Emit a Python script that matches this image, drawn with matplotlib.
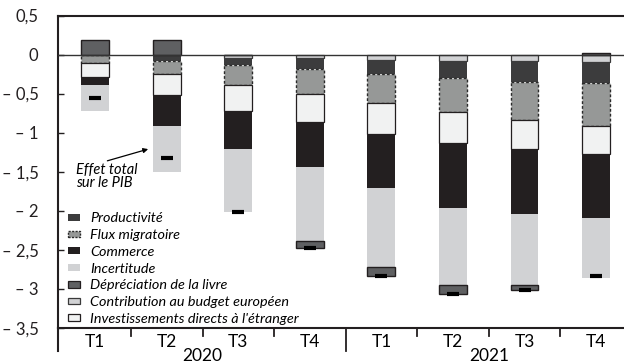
import matplotlib
matplotlib.use("Agg")
import matplotlib.pyplot as plt
import matplotlib.transforms as mtransforms
from matplotlib.patches import Patch
import numpy as np

plt.rcParams['font.family'] = ['Lato', 'DejaVu Sans']

# ---- data (percentage points of GDP) ----
quarters = ["T1", "T2", "T3", "T4", "T1", "T2", "T3", "T4"]
years = ["2020", "2021"]
contribution = [0.0, 0.0, -0.04, -0.05, -0.064, -0.077, -0.085, -0.094]
productivite = [0.0, -0.077, -0.09, -0.14, -0.18, -0.22, -0.26, -0.27]
flux = [-0.106, -0.17, -0.26, -0.31, -0.37, -0.44, -0.49, -0.55]
ide = [-0.18, -0.27, -0.33, -0.36, -0.40, -0.39, -0.38, -0.36]
commerce = [-0.10, -0.40, -0.49, -0.58, -0.69, -0.84, -0.83, -0.82]
incertitude = [-0.33, -0.58, -0.80, -0.94, -1.01, -0.98, -0.90, -0.76]
depreciation = [0.19, 0.19, 0.0, -0.10, -0.12, -0.12, -0.07, 0.02]
total = [-0.55, -1.32, -2.02, -2.48, -2.84, -3.07, -3.01, -2.83]

yticks = [0.5, 0, -0.5, -1, -1.5, -2, -2.5, -3, -3.5]
ytick_labels = ["0,5", "0", "– 0,5", "– 1", "– 1,5", "– 2", "– 2,5", "– 3", "– 3,5"]

# ---- styles ----
EDGE = "#231f20"
styles = {
    "contribution": dict(color="#d1d2d4", edgecolor="#3a3a3a", linewidth=0.9),
    "productivite": dict(color="#3c3c3d", edgecolor="none", linewidth=0),
    "flux": dict(color="#969897", edgecolor="#2a2a2a", linewidth=1.0, linestyle=(0, (2, 1.5))),
    "ide": dict(color="#f1f2f2", edgecolor=EDGE, linewidth=0.9),
    "commerce": dict(color="#231f20", edgecolor="none", linewidth=0),
    "incertitude": dict(color="#d1d2d4", edgecolor="none", linewidth=0),
    "depreciation": dict(color="#5f6062", edgecolor=EDGE, linewidth=1.0),
}

fig = plt.figure(figsize=(6.24, 3.64), dpi=100)
ax = fig.add_axes([58 / 624, 1 - 328 / 364, 1 - 58 / 624, (328 - 15.5) / 364])

x = np.arange(len(quarters))
width = 0.39

order = [("contribution", contribution), ("productivite", productivite), ("flux", flux),
         ("ide", ide), ("commerce", commerce), ("incertitude", incertitude)]
bottom_neg = np.zeros(len(x))
for name, vals in order:
    v = np.array(vals)
    ax.bar(x, v, width, bottom=bottom_neg, zorder=3, **styles[name])
    bottom_neg = bottom_neg + v
dep = np.array(depreciation)
dep_bottom = np.where(dep < 0, bottom_neg, 0.0)
ax.bar(x, dep, width, bottom=dep_bottom, zorder=3, **styles["depreciation"])

# total markers
ax.scatter(x, total, marker="_", s=80, linewidths=3, color="black", zorder=5)

ax.axhline(0, color="#333333", linewidth=1.0, zorder=4)

ax.set_xlim(-0.52, 7.39)
ax.set_ylim(-3.5, 0.5)
ax.set_yticks(yticks)
ax.set_yticklabels(ytick_labels, fontsize=12)
ax.tick_params(axis="y", direction="in", length=4, width=1, pad=14, colors="#231f20")
ax.set_xticks(x)
ax.set_xticklabels(quarters, fontsize=12.5)
ax.tick_params(axis="x", length=0, pad=4)

ax.spines["right"].set_visible(False)
for s in ["left", "top", "bottom"]:
    ax.spines[s].set_linewidth(1.5)
    ax.spines[s].set_color("#231f20")

# separators below x axis
trans = mtransforms.blended_transform_factory(ax.transData, ax.transAxes)
for sx in [0.5, 1.5, 2.5, 4.5, 5.5, 6.5]:
    ax.plot([sx, sx], [0, -0.025], transform=trans, color="#231f20", lw=1.3, clip_on=False)
ax.plot([3.5, 3.5], [0, -0.075], transform=trans, color="#231f20", lw=1.3, clip_on=False)
ax.plot([-0.52, -0.52], [0, -0.075], transform=trans, color="#231f20", lw=1.5, clip_on=False)
ax.text(1.5, -0.09, years[0], transform=trans, ha="center", va="center", fontsize=12.5)
ax.text(5.5, -0.09, years[1], transform=trans, ha="center", va="center", fontsize=12.5)

# annotation
ax.text(-0.27, -1.56, "Effet total\nsur le PIB", fontsize=10.5, style="italic",
        ha="left", va="center", linespacing=0.95)
ax.annotate("", xy=(0.74, -1.21), xytext=(0.17, -1.36),
            arrowprops=dict(arrowstyle="-|>", color="black", lw=0.9, mutation_scale=7,
                            shrinkA=0, shrinkB=0),
            annotation_clip=False)

# legend
handles = [
    Patch(facecolor="#3c3c3d", edgecolor="none", label="Productivité"),
    Patch(facecolor="#969897", edgecolor="#2a2a2a", linestyle=(0, (1.5, 1)), linewidth=1.0, label="Flux migratoire"),
    Patch(facecolor="#231f20", edgecolor="none", label="Commerce"),
    Patch(facecolor="#d1d2d4", edgecolor="none", label="Incertitude"),
    Patch(facecolor="#5f6062", edgecolor=EDGE, linewidth=0.9, label="Dépréciation de la livre"),
    Patch(facecolor="#d1d2d4", edgecolor="#3a3a3a", linewidth=0.9, label="Contribution au budget européen"),
    Patch(facecolor="#f1f2f2", edgecolor=EDGE, linewidth=0.9, label="Investissements directs à l'étranger"),
]
leg = fig.legend(handles=handles, loc="lower left", bbox_to_anchor=(68 / 624, 1 - 325 / 364),
                 frameon=False, prop=dict(size=10.4, style="italic"), handlelength=0.85,
                 handleheight=0.34, handletextpad=0.7, labelspacing=0.33, borderaxespad=0,
                 borderpad=0)

fig.savefig("out.png", dpi=100)
